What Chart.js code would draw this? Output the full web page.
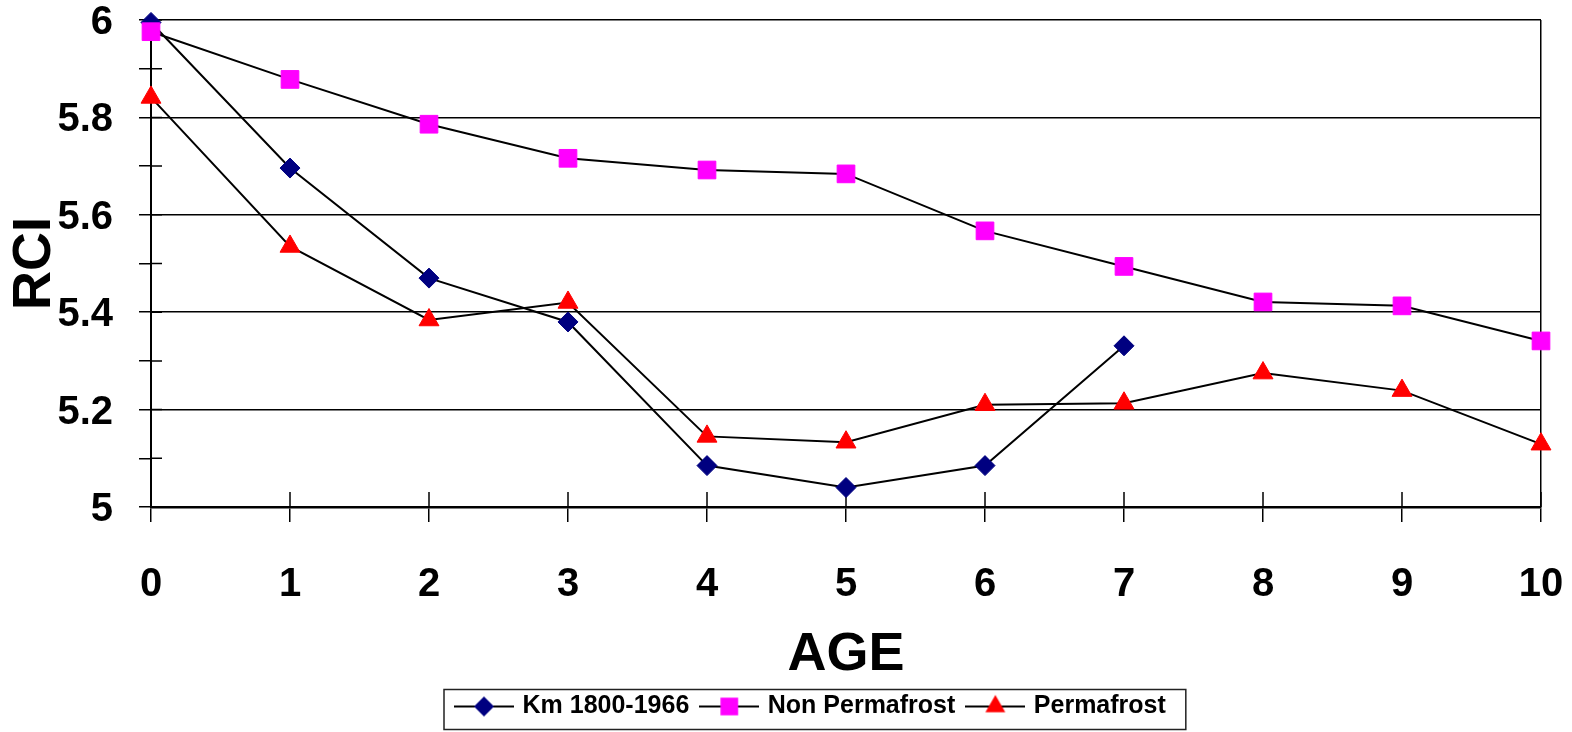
<!DOCTYPE html>
<html>
<head>
<meta charset="utf-8">
<script src="https://cdn.jsdelivr.net/npm/chart.js@4.4.1/dist/chart.umd.min.js"></script>
<style>
  html, body { margin: 0; padding: 0; background: #fff; }
  #wrap { width: 1572px; height: 732px; }
</style>
</head>
<body>
<div id="wrap"><canvas id="rciChart"></canvas></div>
<script>
var ages = [0, 1, 2, 3, 4, 5, 6, 7, 8, 9, 10];
var kmValues = [5.995, 5.696, 5.470, 5.380, 5.085, 5.040, 5.085, 5.331];
var nonPermValues = [5.976, 5.878, 5.786, 5.716, 5.692, 5.684, 5.567, 5.494, 5.421, 5.413, 5.341];
var permValues = [5.841, 5.535, 5.384, 5.420, 5.145, 5.133, 5.210, 5.213, 5.275, 5.239, 5.129];
var seriesNames = ['Km 1800-1966', 'Non Permafrost', 'Permafrost'];
var yTickLabels = [5, 5.2, 5.4, 5.6, 5.8, 6];

var FONT = '"Liberation Sans", Arial, sans-serif';

function toPoints(vals) {
  return vals.map(function (v, i) { return { x: ages[i], y: v }; });
}

// little line + marker pictures for the legend
function legendIcon(style, color, r) {
  var c = document.createElement('canvas');
  c.width = 60; c.height = 26;
  var g = c.getContext('2d');
  g.strokeStyle = '#000'; g.lineWidth = 1.8;
  g.beginPath(); g.moveTo(0, 13); g.lineTo(60, 13); g.stroke();
  g.fillStyle = color;
  g.beginPath();
  if (style === 'rectRot') {
    g.moveTo(30, 13 - r); g.lineTo(30 + r, 13); g.lineTo(30, 13 + r); g.lineTo(30 - r, 13);
  } else if (style === 'rect') {
    var h = r * Math.SQRT1_2;
    g.rect(30 - h, 13 - h, 2 * h, 2 * h);
  } else {
    g.moveTo(30, 13 - r); g.lineTo(30 + r * 0.866, 13 + r / 2); g.lineTo(30 - r * 0.866, 13 + r / 2);
  }
  g.closePath(); g.fill();
  return c;
}
var legendIcons = [
  legendIcon('rectRot', '#000080', 10),
  legendIcon('rect', '#ff00ff', 12.5),
  legendIcon('triangle', '#ff0000', 11.5)
];

var extras = {
  id: 'extras',
  afterLayout: function (chart) {
    var lg = chart.legend;
    var pad = lg.options.labels.padding;
    var x0 = (lg.left + pad + lg.right - lg.lineWidths[0]) / 2;
    var d = 458 - x0;
    lg.left += d; lg.right += d;
    lg.top -= 3; lg.bottom -= 3;
  },
  beforeDatasetsDraw: function (chart) {
    var ctx = chart.ctx, xs = chart.scales.x, ys = chart.scales.y, area = chart.chartArea;
    ctx.save();
    ctx.strokeStyle = '#000'; ctx.lineWidth = 1.5;
    ctx.beginPath();
    ys.ticks.forEach(function (t) {
      var py = ys.getPixelForValue(t.value);
      ctx.moveTo(area.left, py); ctx.lineTo(area.left + 11, py);
    });
    xs.ticks.forEach(function (t) {
      var px = xs.getPixelForValue(t.value);
      ctx.moveTo(px, area.bottom); ctx.lineTo(px, area.bottom - 15);
    });
    ctx.stroke();
    ctx.restore();
  },
  afterDraw: function (chart) {
    var lg = chart.legend, ctx = chart.ctx;
    var pad = lg.options.labels.padding;
    var x0 = (lg.left + pad + lg.right - lg.lineWidths[0]) / 2;
    var w = lg.lineWidths[0] - pad;
    var cy = lg.top + pad + 12.5;
    ctx.save();
    ctx.strokeStyle = '#222'; ctx.lineWidth = 1.5;
    ctx.strokeRect(x0 - 14, cy - 17, w + 34, 40);
    ctx.restore();
  }
};

var ctx = document.getElementById('rciChart').getContext('2d');
new Chart(ctx, {
  type: 'line',
  data: {
    datasets: [
      {
        label: seriesNames[0], data: toPoints(kmValues),
        borderColor: '#000', borderWidth: 2,
        pointStyle: 'rectRot', pointRadius: 10, pointHoverRadius: 10,
        pointBackgroundColor: '#000080', pointBorderColor: '#000080', pointBorderWidth: 1,
        order: 3, clip: false
      },
      {
        label: seriesNames[1], data: toPoints(nonPermValues),
        borderColor: '#000', borderWidth: 2,
        pointStyle: 'rect', pointRadius: 12.5, pointHoverRadius: 12.5,
        pointBackgroundColor: '#ff00ff', pointBorderColor: '#ff00ff', pointBorderWidth: 1,
        order: 2, clip: false
      },
      {
        label: seriesNames[2], data: toPoints(permValues),
        borderColor: '#000', borderWidth: 2,
        pointStyle: 'triangle', pointRadius: 11.5, pointHoverRadius: 11.5,
        pointBackgroundColor: '#ff0000', pointBorderColor: '#ff0000', pointBorderWidth: 1,
        order: 1, clip: false
      }
    ]
  },
  options: {
    responsive: true,
    maintainAspectRatio: false,
    animation: false,
    layout: { padding: { top: 20, right: 31, bottom: 0, left: 0 } },
    scales: {
      x: {
        type: 'linear', min: 0, max: 10,
        afterFit: function (s) { s.height = 176; s.paddingLeft = 0; s.paddingRight = 0; },
        border: { color: '#000', width: 2.5 },
        grid: {
          color: function (c) { return c.tick && c.tick.value === 10 ? '#000' : 'rgba(0,0,0,0)'; },
          tickColor: '#000', lineWidth: 1.5, tickLength: 15
        },
        ticks: {
          stepSize: 1, autoSkip: false, maxRotation: 0, padding: 43, color: '#000',
          font: { family: FONT, size: 40, weight: 'bold', lineHeight: 1 }
        },
        title: {
          display: true, text: 'AGE', color: '#000',
          font: { family: FONT, size: 54, weight: 'bold', lineHeight: 1 },
          padding: { top: 0, bottom: 1 }
        }
      },
      y: {
        min: 5, max: 6,
        afterFit: function (s) { s.width = 151; s.paddingTop = 0; s.paddingBottom = 0; },
        border: { color: '#000', width: 2 },
        grid: {
          color: function (c) { return Math.round(c.tick.value * 10) % 2 === 0 ? '#000' : 'rgba(0,0,0,0)'; },
          tickColor: '#000', lineWidth: 1.5, tickLength: 12
        },
        ticks: {
          stepSize: 0.1, autoSkip: false, padding: 26, labelOffset: 3, color: '#000',
          font: { family: FONT, size: 40, weight: 'bold', lineHeight: 1 },
          callback: function (v) {
            var r = Math.round(v * 10) / 10;
            return yTickLabels.indexOf(r) >= 0 ? String(r) : '';
          }
        },
        title: {
          display: true, text: 'RCI', color: '#000',
          font: { family: FONT, size: 54, weight: 'bold', lineHeight: 1 },
          padding: { top: 8, bottom: 0 }
        }
      }
    },
    plugins: {
      tooltip: { enabled: false },
      legend: {
        position: 'bottom',
        labels: {
          usePointStyle: true, pointStyleWidth: 52, padding: 14, color: '#000',
          font: { family: FONT, size: 25, weight: 'bold' },
          sort: function (a, b) { return a.datasetIndex - b.datasetIndex; },
          generateLabels: function (chart) {
            var items = Chart.defaults.plugins.legend.labels.generateLabels(chart);
            items.forEach(function (it) { it.pointStyle = legendIcons[it.datasetIndex]; });
            return items;
          }
        }
      }
    }
  },
  plugins: [extras]
});
</script>
</body>
</html>
